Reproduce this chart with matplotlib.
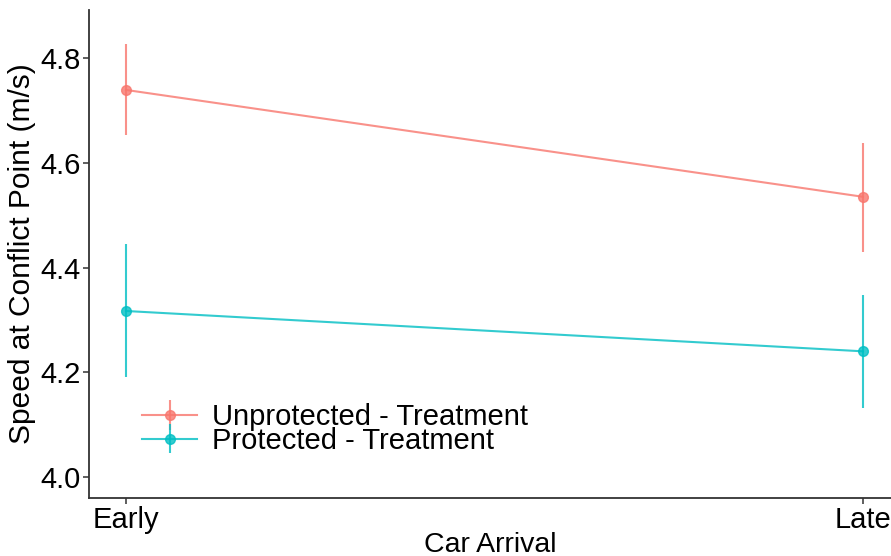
import numpy as np
import matplotlib.pyplot as plt

plt.rcParams['font.family'] = ['Liberation Sans', 'DejaVu Sans']

arrival = ['Early', 'Late']

# mean speed and interval bounds per group
unprot_mean = [4.739, 4.535]
unprot_low = [4.653, 4.430]
unprot_high = [4.827, 4.638]

prot_mean = [4.317, 4.240]
prot_low = [4.191, 4.132]
prot_high = [4.445, 4.348]

red = '#F8766D'
teal = '#00BFC4'

fig = plt.figure(figsize=(8.91, 5.56), dpi=100)
ax = fig.add_axes([89 / 891, 58 / 556, 1 - 89 / 891, 488 / 556])

x = np.arange(len(arrival))
for mean, lo, hi, col, lab in [
    (unprot_mean, unprot_low, unprot_high, red, 'Unprotected - Treatment'),
    (prot_mean, prot_low, prot_high, teal, 'Protected - Treatment'),
]:
    mean = np.array(mean)
    err = [mean - np.array(lo), np.array(hi) - mean]
    ax.errorbar(x, mean, yerr=err, color=col, lw=1.5, elinewidth=1.5,
                capsize=0, marker='o', ms=7, alpha=0.8, label=lab)

ax.set_xlim(-37 / 737, 1 + 28 / 737)
ax.set_ylim(3.96, 4.8916)
ax.set_yticks([4.0, 4.2, 4.4, 4.6, 4.8])
ax.set_yticklabels(['4.0', '4.2', '4.4', '4.6', '4.8'])
ax.set_xticks(x)
ax.set_xticklabels(arrival)

for s in ['top', 'right']:
    ax.spines[s].set_visible(False)
for s in ['left', 'bottom']:
    ax.spines[s].set_color('#333333')
    ax.spines[s].set_linewidth(1.3)
ax.tick_params(axis='both', colors='#333333', length=4, width=1.1,
               labelsize=21, labelcolor='black', pad=2)

ax.set_xlabel('Car Arrival', fontsize=20.5, labelpad=-2)
ax.set_ylabel('Speed at Conflict Point (m/s)', fontsize=21.5, labelpad=3)

ax.legend(loc='lower left', bbox_to_anchor=(0.066, 0.088), frameon=False,
          fontsize=21, handlelength=1.9, handletextpad=0.5,
          labelspacing=-0.14, borderaxespad=0, borderpad=0)

fig.savefig('out.png', dpi=100)
